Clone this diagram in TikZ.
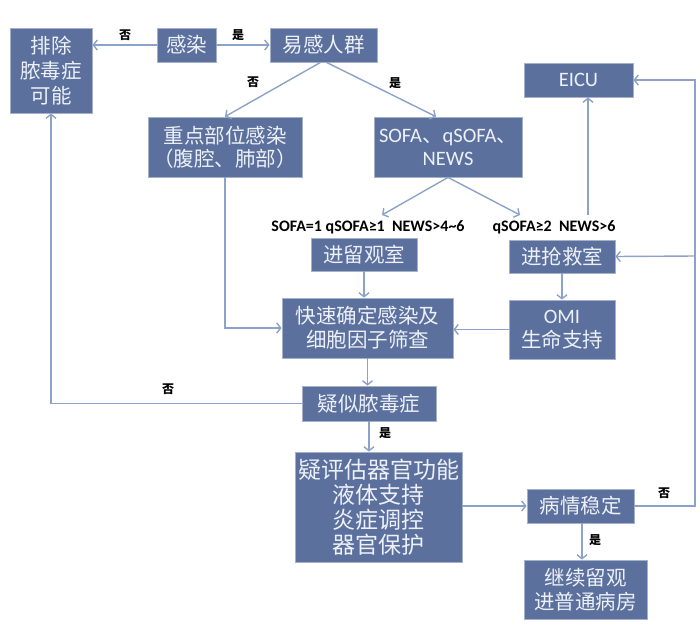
\documentclass[tikz,border=0pt]{standalone}
\usepackage{fontspec}
\setmainfont{Noto Sans CJK SC}
\newfontfamily\latin{Carlito}
\usetikzlibrary{arrows.meta,calc}
\definecolor{boxblue}{RGB}{92,112,158}
\definecolor{linkblue}{RGB}{140,162,200}
\definecolor{boxtext}{RGB}{236,240,247}
\tikzset{
  box/.style={draw=boxblue!55!white, line width=0.8pt, fill=boxblue, text=boxtext,
    align=center, inner sep=0pt, font=\fontsize{20.5}{25}\selectfont},
  link/.style={draw=linkblue, line width=1.4pt, -{Straight Barb[length=4pt,width=10pt]}},
  wire/.style={draw=linkblue, line width=1.4pt},
  yn/.style={font=\fontsize{12}{13}\selectfont\bfseries, text=black},
  crit/.style={font=\latin\fontsize{16}{18}\selectfont\bfseries, text=black}
}

\begin{document}
\begin{tikzpicture}[x=1pt, y=-1pt]
        \useasboundingbox (0,0) rectangle (700,627);
        % Top row
        \node[box, minimum width=82pt, minimum height=85pt] (paichu) at (51,70.5) {排除\\脓毒症\\可能};
        \node[box, minimum width=59pt, minimum height=34pt] (ganran) at (186.5,45) {感染};
        \node[box, minimum width=107pt, minimum height=34pt] (yigan) at (323.5,45) {易感人群};
        \node[box, minimum width=109pt, minimum height=34pt] (eicu) at (578.5,80) {\latin EICU};
        % Second row
        \node[box, minimum width=154pt, minimum height=60pt, font=\fontsize{20.5}{23}\selectfont] (zhongdian) at (225,147) {重点部位感染\\（腹腔、肺部）};
        \node[box, minimum width=148pt, minimum height=60pt, font=\fontsize{20.5}{23}\selectfont] (sofa) at (448,147) {{\latin SOFA}、{\latin qSOFA}、\\{\latin NEWS}};
        % Criteria
        \node[crit] (critlow) at (368,227) {SOFA=1 qSOFA≥1\ \ NEWS>4\textasciitilde 6};
        \node[crit] (crithigh) at (554,227) {qSOFA≥2\ \ NEWS>6};
        \coordinate (lowend) at (382,215);
        \coordinate (highend) at (520,215);
        % Wards
        \node[box, minimum width=106pt, minimum height=33pt] (liuguan) at (364,254.5) {进留观室};
        \node[box, minimum width=106pt, minimum height=33pt] (qiangjiu) at (562,256.5) {进抢救室};
        \node[box, minimum width=171pt, minimum height=60pt, font=\fontsize{20.5}{24}\selectfont] (kuaisu) at (367.5,328) {快速确定感染及\\细胞因子筛查};
        \node[box, minimum width=106pt, minimum height=59pt, font=\fontsize{20.5}{24}\selectfont] (omi) at (562,329.5) {{\latin OMI}\\生命支持};
        % Lower part
        \node[box, minimum width=134pt, minimum height=35pt] (yisi) at (369,403.5) {疑似脓毒症};
        \node[box, minimum width=167pt, minimum height=110pt, font=\fontsize{23}{25}\selectfont] (pinggu) at (378.5,507) {疑评估器官功能\\液体支持\\炎症调控\\器官保护};
        \node[box, minimum width=107pt, minimum height=34pt] (wending) at (580.5,506) {病情稳定};
        \node[box, minimum width=123pt, minimum height=59pt, font=\fontsize{20.5}{24}\selectfont] (jixu) at (585.5,589.5) {继续留观\\进普通病房};
        \coordinate (rail) at (695,256);
        \coordinate (eicufoot) at (588,215);
        % Connectors
        \draw[link] (ganran.west) -- (paichu.east |- ganran.west);
        \draw[link] (ganran.east) -- (yigan.west);
        \draw[link] ([xshift=-3pt]yigan.south) -- (zhongdian.north);
        \draw[link] ([xshift=3pt]yigan.south) -- ([xshift=-12pt]sofa.north);
        \draw[link] (sofa.south) -- (lowend);
        \draw[link] (sofa.south) -- (highend);
        \draw[link] (liuguan.south) -- (liuguan.south |- kuaisu.north);
        \draw[link] (zhongdian.south) -- (zhongdian.south |- kuaisu.west) -- (kuaisu.west);
        \draw[link] (qiangjiu.south) -- (omi.north);
        \draw[link] (omi.west) -- (omi.west -| kuaisu.east);
        \draw[link] (eicufoot) -- (eicufoot |- eicu.south);
        \draw[link] (kuaisu.south) -- (kuaisu.south |- yisi.north);
        \draw[link] (yisi.west) -- (paichu.south |- yisi.west) -- (paichu.south);
        \draw[link] (yisi.south) -- (yisi.south |- pinggu.north);
        \draw[link] (pinggu.east |- wending.west) -- (wending.west);
        \draw[wire] (wending.east) -- (wending.east -| rail) -- (rail);
        \draw[link] (rail) -- (rail |- eicu.east) -- (eicu.east);
        \draw[link] (rail) -- (qiangjiu.east);
        \draw[link] ([xshift=1.5pt]wending.south) -- ([xshift=1.5pt]wending.south |- jixu.north);
        % Labels
        \node[yn] (no1) at (125,35) {否};
        \node[yn] (yes1) at (238,35) {是};
        \node[yn] (no2) at (253,82) {否};
        \node[yn] (yes2) at (395,83) {是};
        \node[yn] (no3) at (168,389) {否};
        \node[yn] (yes3) at (385,433) {是};
        \node[yn] (no4) at (664,493) {否};
        \node[yn] (yes4) at (595,540) {是};
\end{tikzpicture}
\end{document}
